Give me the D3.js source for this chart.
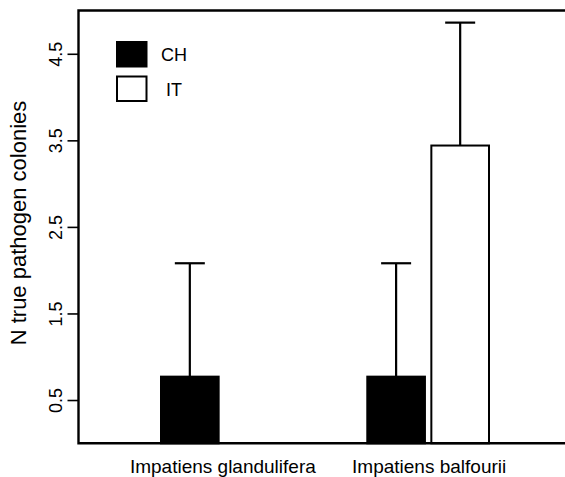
<!DOCTYPE html>
<html>
<head>
<meta charset="utf-8">
<script src="https://cdn.jsdelivr.net/npm/d3@7"></script>
<style>
  body { margin: 0; background: #fff; }
  text { font-family: "Liberation Sans", Arial, sans-serif; fill: #000; }
</style>
</head>
<body>
<div id="chart"></div>
<script>
// data
var species = ['Impatiens glandulifera', 'Impatiens balfourii'];
var origins = ['CH', 'IT'];
var chMeans = [0.77, 0.77];
var chErrTop = [2.08, 2.08];
var itMeans = [null, 3.44];
var itErrTop = [null, 4.86];
var yTicks = [0.5, 1.5, 2.5, 3.5, 4.5];

window.onload = function() {

  var width = 565,
    height = 477;

  var fills = { CH: '#000', IT: '#fff' };

  var svg = d3.select('#chart').append('svg')
    .attr('width', width).attr('height', height);

  var y = d3.scaleLinear().domain([0, 5]).range([443.3, 10.5]);

  var xGroup = d3.scaleBand().domain(species).range([161, 489]).paddingInner(0.41);
  var xInner = d3.scaleBand().domain(origins).range([0, xGroup.bandwidth()]).paddingInner(0.1);

  // rows built from the arrays
  var rows = [];
  species.forEach(function(s, i) {
    rows.push({ sp: s, org: 'CH', mean: chMeans[i], top: chErrTop[i] });
    rows.push({ sp: s, org: 'IT', mean: itMeans[i], top: itErrTop[i] });
  });
  rows = rows.filter(function(d) { return d.mean !== null; });

  function cx(d) { return xGroup(d.sp) + xInner(d.org) + xInner.bandwidth() / 2; }

  // error bars (upper only)
  var eb = svg.append('g').attr('stroke', '#000').attr('stroke-width', 2.2);
  eb.selectAll('line.stem').data(rows).enter().append('line')
    .attr('class', 'stem')
    .attr('x1', cx).attr('x2', cx)
    .attr('y1', function(d) { return y(d.mean); })
    .attr('y2', function(d) { return y(d.top); });
  eb.selectAll('line.cap').data(rows).enter().append('line')
    .attr('class', 'cap')
    .attr('x1', function(d) { return cx(d) - 15; })
    .attr('x2', function(d) { return cx(d) + 15; })
    .attr('y1', function(d) { return y(d.top); })
    .attr('y2', function(d) { return y(d.top); });

  // bars
  svg.append('g').selectAll('rect').data(rows).enter().append('rect')
    .attr('x', function(d) { return xGroup(d.sp) + xInner(d.org); })
    .attr('y', function(d) { return y(d.mean); })
    .attr('width', xInner.bandwidth())
    .attr('height', function(d) { return y(0) - y(d.mean); })
    .attr('fill', function(d) { return fills[d.org]; })
    .attr('stroke', '#000')
    .attr('stroke-width', 2);

  // frame: left, top and bottom lines
  var frame = svg.append('g').attr('stroke', '#000').attr('stroke-width', 2.4).attr('fill', 'none');
  frame.append('path')
    .attr('d', 'M' + width + ',' + y(5) + 'H78.5V' + y(0) + 'H' + width);

  // y axis ticks
  var yAxis = svg.append('g').attr('transform', 'translate(78.5,0)')
    .call(d3.axisLeft(y).tickValues(yTicks).tickSize(11).tickFormat(d3.format('.1f')));
  yAxis.select('.domain').remove();
  yAxis.selectAll('.tick line').attr('stroke', '#000').attr('stroke-width', 1.6);
  yAxis.selectAll('.tick text')
    .attr('x', null).attr('dy', null)
    .attr('transform', 'translate(-17,0) rotate(-90)')
    .attr('text-anchor', 'middle')
    .attr('font-size', 18)
    .attr('font-family', '"Liberation Sans", Arial, sans-serif')
    .attr('fill', '#000');

  // y title
  svg.append('text')
    .attr('transform', 'translate(25.5,223) rotate(-90)')
    .attr('text-anchor', 'middle')
    .attr('font-size', 22)
    .text('N true pathogen colonies');

  // category labels
  svg.append('g').selectAll('text').data(species).enter().append('text')
    .attr('x', function(d) { return xGroup(d) + xGroup.bandwidth() / 2 + 1; })
    .attr('y', 473)
    .attr('text-anchor', 'middle')
    .attr('font-size', 19)
    .text(function(d) { return d; });

  // legend
  var leg = svg.append('g').selectAll('g').data(origins).enter().append('g')
    .attr('transform', function(d, i) { return 'translate(117,' + (42 + i * 34.5) + ')'; });
  leg.append('rect')
    .attr('width', 29.5).attr('height', 24.5)
    .attr('fill', function(d) { return fills[d]; })
    .attr('stroke', '#000').attr('stroke-width', 2);
  leg.append('text')
    .attr('x', 57).attr('y', 19)
    .attr('text-anchor', 'middle')
    .attr('font-size', 18)
    .text(function(d) { return d; });

}
</script>
</body>
</html>
